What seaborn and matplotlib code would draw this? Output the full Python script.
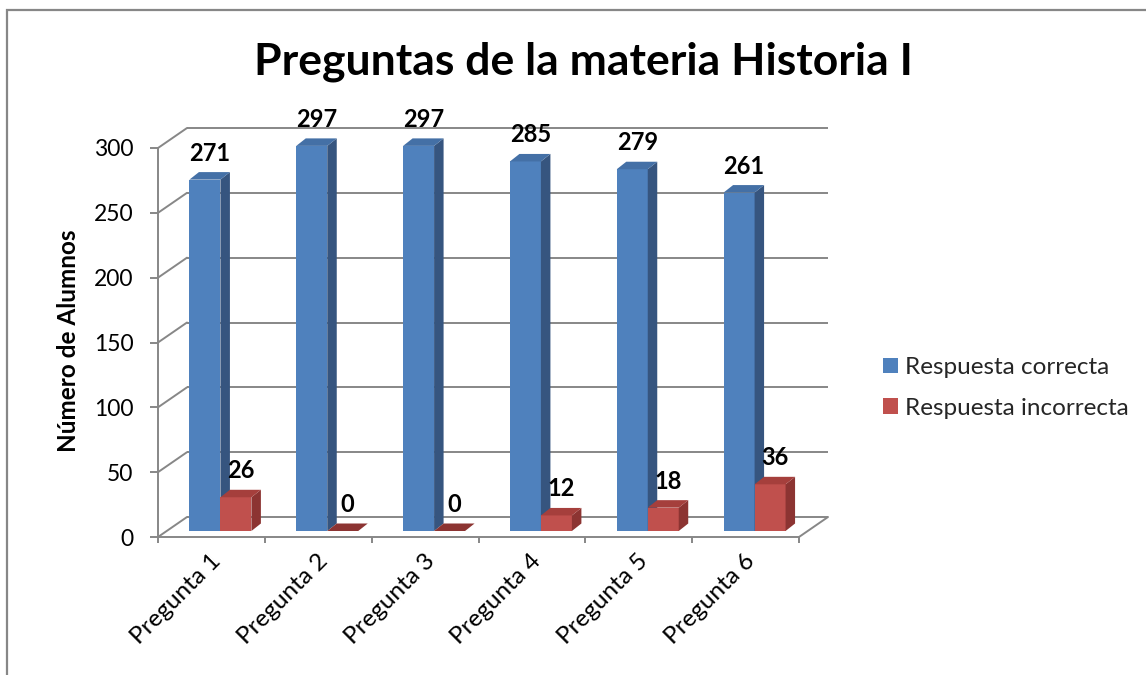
import numpy as np
import pandas as pd
import matplotlib
matplotlib.use("Agg")
import matplotlib.pyplot as plt
import matplotlib.transforms as mtransforms
from matplotlib.patches import Polygon, Patch, Rectangle
from matplotlib.lines import Line2D
import seaborn as sns

# ---- data ----
preguntas = ["Pregunta 1", "Pregunta 2", "Pregunta 3", "Pregunta 4", "Pregunta 5", "Pregunta 6"]
correctas = [271, 297, 297, 285, 279, 261]
incorrectas = [26, 0, 0, 12, 18, 36]
series = ["Respuesta correcta", "Respuesta incorrecta"]
y_ticks = [0, 50, 100, 150, 200, 250, 300]
titulo = "Preguntas de la materia Historia I"
eje_y = "Número de Alumnos"

df = pd.DataFrame({
    "pregunta": preguntas * 2,
    "alumnos": correctas + incorrectas,
    "respuesta": [series[0]] * len(preguntas) + [series[1]] * len(preguntas),
})

# ---- style ----
sns.set_theme(style="white")
plt.rcParams["font.family"] = ["Lato", "DejaVu Sans"]

GRID = "#878787"
FRONT = ["#4F81BD", "#C0504D"]
SIDE = ["#36557F", "#8C3432"]
TOP = ["#4470A6", "#A53F3C"]

W, H = 1146, 675
fig = plt.figure(figsize=(W / 100, H / 100), dpi=100)
fig.patch.set_facecolor("white")

# front plane of the 3-D box, in pixel units (origin top-left)
FX0, FX1, FY0, FY1 = 158, 799, 537, 148
BACK = (29, 20)      # shift of the back wall
BARS = (9, 6)        # shift of the plane the bars stand on
DEPTH_PX = (9.5, 7.5)  # visible depth of each bar


def plane_axes(shift, z):
    sx, sy = shift
    ax = fig.add_axes([(FX0 + sx) / W, (H - FY0 + sy) / H,
                       (FX1 - FX0) / W, (FY0 - FY1) / H], zorder=z)
    ax.set_facecolor("none")
    ax.set_xlim(-0.5, len(preguntas) - 0.5)
    ax.set_ylim(y_ticks[0], y_ticks[-1])
    return ax


ax_back = plane_axes(BACK, 0)
ax_f = plane_axes((0, 0), 1)
ax_bar = plane_axes(BARS, 2)

# back wall grid
for v in y_ticks:
    ax_back.plot([-0.5, len(preguntas) - 0.5], [v, v], color=GRID, lw=1.4,
                 clip_on=False, solid_capstyle="butt")
ax_back.axis("off")

# side wall and floor edges joining the front plane to the back wall
ident = mtransforms.IdentityTransform()
joins = [(-0.5, v) for v in y_ticks] + [(len(preguntas) - 0.5, 0)]
for pt in joins:
    p0 = ax_f.transData.transform(pt)
    p1 = ax_back.transData.transform(pt)
    fig.add_artist(Line2D([p0[0], p1[0]], [p0[1], p1[1]], transform=ident,
                          color=GRID, lw=1.4, zorder=0.5))

# front axes: spines, ticks, labels
for s in ["top", "right"]:
    ax_f.spines[s].set_visible(False)
for s in ["left", "bottom"]:
    ax_f.spines[s].set_color(GRID)
    ax_f.spines[s].set_linewidth(1.4)
ax_f.set_yticks(y_ticks)
ax_f.set_yticklabels([str(v) for v in y_ticks])
ax_f.set_xticks(np.arange(-0.5, len(preguntas), 1.0))
ax_f.set_xticklabels([])
ax_f.tick_params(axis="y", left=True, direction="out", length=5.8, width=1.4,
                 color=GRID, labelsize=16.5, pad=12, labelcolor="black")
ax_f.tick_params(axis="x", bottom=True, direction="out", length=4.3, width=1.4,
                 color=GRID)
for i, name in enumerate(preguntas):
    tr = mtransforms.offset_copy(ax_f.transData, fig=fig, x=6, y=-21, units="dots")
    ax_f.text(i, 0, name, transform=tr, rotation=45, rotation_mode="anchor",
              ha="right", va="center", fontsize=17.5, color="black")

# bars
sns.barplot(data=df, x="pregunta", y="alumnos", hue="respuesta", hue_order=series,
            palette=FRONT, width=0.58, saturation=1, errorbar=None, linewidth=0,
            legend=False, ax=ax_bar)
ax_bar.set_xlim(-0.5, len(preguntas) - 0.5)
ax_bar.set_ylim(y_ticks[0], y_ticks[-1])
ax_bar.axis("off")

px_x = (FX1 - FX0) / len(preguntas)
px_y = (FY0 - FY1) / (y_ticks[-1] - y_ticks[0])
dx = DEPTH_PX[0] / px_x
dy = DEPTH_PX[1] / px_y

for k, cont in enumerate(ax_bar.containers):
    for bar in cont:
        x, w, h = bar.get_x(), bar.get_width(), bar.get_height()
        bar.set_zorder(2 + k)
        side = Polygon([(x + w, 0), (x + w + dx, dy), (x + w + dx, h + dy), (x + w, h)],
                       closed=True, facecolor=SIDE[k], edgecolor="none",
                       zorder=2.5 + k, clip_on=False)
        top = Polygon([(x, h), (x + dx, h + dy), (x + w + dx, h + dy), (x + w, h)],
                      closed=True, facecolor=TOP[k] if h > 0 else SIDE[k],
                      edgecolor="none", zorder=2.5 + k, clip_on=False)
        ax_bar.add_patch(side)
        ax_bar.add_patch(top)
        ax_bar.annotate(f"{h:.0f}", (x + w / 2, h), xytext=(5, 19),
                        textcoords="offset pixels", ha="center", va="baseline",
                        fontsize=17, fontweight="bold", color="black",
                        annotation_clip=False, zorder=6)
ax_bar.set_xlim(-0.5, len(preguntas) - 0.5)
ax_bar.set_ylim(y_ticks[0], y_ticks[-1])

# titles
fig.text(583 / W, 1 - 62 / H, titulo, ha="center", va="center",
         fontsize=32, fontweight="bold", color="black")
fig.text(68 / W, 1 - 341 / H, eje_y, ha="center", va="center", rotation=90,
         fontsize=17.5, fontweight="bold", color="black")

# legend
handles = [Patch(facecolor=c, edgecolor="none") for c in FRONT]
fig.legend(handles=handles, labels=series, loc="center left",
           bbox_to_anchor=(883 / W, 1 - 388 / H), frameon=False, fontsize=17.5,
           handlelength=0.6, handleheight=0.6, handletextpad=0.3,
           labelspacing=0.8, borderpad=0, borderaxespad=0)

# chart border
fig.add_artist(Rectangle((7 / W, -0.1), 1.2, 1 - 10 / H + 0.1,
                         transform=fig.transFigure, fill=False,
                         edgecolor=GRID, lw=1.6, zorder=10))

fig.savefig("out.png", dpi=100, facecolor="white")
